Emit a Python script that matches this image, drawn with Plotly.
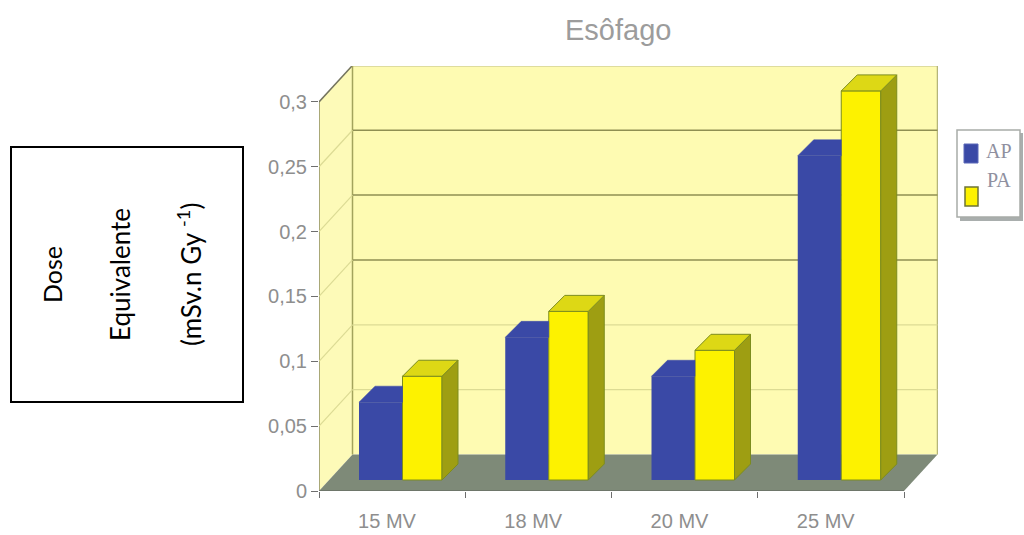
import plotly.graph_objects as go

# Dose values per beam energy
categories = ["15 MV", "18 MV", "20 MV", "25 MV"]
ap_values = [0.06, 0.11, 0.08, 0.25]
pa_values = [0.08, 0.13, 0.10, 0.30]
y_ticks = [0, 0.05, 0.1, 0.15, 0.2, 0.25, 0.3]
y_tick_labels = ["0", "0,05", "0,1", "0,15", "0,2", "0,25", "0,3"]

W, H = 1024, 535
LEFT, RIGHT, TOP, BOTTOM = 319, 938, 66, 491
PX_X = 146.25          # pixels per category
PX_Y = 1297.0          # pixels per unit of dose
WALL_DX = 33.5 / PX_X  # depth of the chart box
WALL_DY = 36.5 / PX_Y
BAR_DX = 16 / PX_X     # depth of each bar
BAR_DY = 16 / PX_Y
BAR_BASE = 11 / PX_Y   # bars stand a little behind the front edge of the floor
AP_START, AP_END, PA_END = 0.2735, 0.571, 0.841
X_MAX = (RIGHT - LEFT) / PX_X
Y_MAX = (BOTTOM - TOP) / PX_Y
N = len(categories)

WALL = "#FEFBB2"
SIDE_WALL = "#FDFAB8"
FLOOR = "#7E8A78"
BLUE = "#3A49A6"
YELLOW = "#FDF200"
OLIVE = "#9E9E12"
TOP_FACE = "#DDD815"
EDGE = "#7C8C1E"
GRID = "#8F8F52"
FAINT = "#DCDB94"
TEXT = "#8E8E8E"
AXIS_FONT = "Liberation Sans, sans-serif"


def path(points):
    return "M" + " L".join(f"{x},{y}" for x, y in points) + " Z"


def polygon(points, color, edge=None):
    xs = [p[0] for p in points] + [points[0][0]]
    ys = [p[1] for p in points] + [points[0][1]]
    return go.Scatter(x=xs, y=ys, mode="lines", fill="toself", fillcolor=color,
                      line=dict(color=edge or color, width=1 if edge else 0.5), hoverinfo="skip",
                      showlegend=False, cliponaxis=False)


def box(x0, y0, x1, y1, **kw):
    """Rectangle given in page pixels."""
    return dict(type="rect", xref="paper", yref="paper",
                x0=(x0 - LEFT) / (RIGHT - LEFT), x1=(x1 - LEFT) / (RIGHT - LEFT),
                y0=(BOTTOM - y0) / (BOTTOM - TOP), y1=(BOTTOM - y1) / (BOTTOM - TOP), **kw)


def note(x, y, text, size, color, font, angle=0):
    """Text centred on a page pixel position."""
    return dict(xref="paper", yref="paper", showarrow=False, text=text, textangle=angle,
                x=(x - LEFT) / (RIGHT - LEFT), y=(BOTTOM - y) / (BOTTOM - TOP),
                xanchor="center", yanchor="middle",
                font=dict(size=size, color=color, family=font))


top = y_ticks[-1]
back_x0, back_x1 = WALL_DX, N + WALL_DX
shapes = [
    # back wall, side wall, floor
    dict(type="path", layer="below", line=dict(width=0), fillcolor=WALL,
         path=path([(back_x0, WALL_DY), (back_x1, WALL_DY), (back_x1, top + WALL_DY), (back_x0, top + WALL_DY)])),
    dict(type="path", layer="below", line=dict(width=0), fillcolor=SIDE_WALL,
         path=path([(0, 0), (back_x0, WALL_DY), (back_x0, top + WALL_DY), (0, top)])),
    dict(type="path", layer="below", line=dict(width=0), fillcolor=FLOOR,
         path=path([(0, 0), (N, 0), (back_x1, WALL_DY), (back_x0, WALL_DY)])),
    # box edges
    dict(type="line", layer="below", x0=back_x0, x1=back_x1, y0=top + WALL_DY, y1=top + WALL_DY,
         line=dict(color="#7F7F62", width=1.5)),
    dict(type="line", layer="below", x0=0, x1=back_x0, y0=top, y1=top + WALL_DY,
         line=dict(color="#74745E", width=1.5)),
    dict(type="line", layer="below", x0=back_x0, x1=back_x0, y0=WALL_DY, y1=top + WALL_DY,
         line=dict(color="#A3A35C", width=1.5)),
    dict(type="line", layer="below", x0=back_x1, x1=back_x1, y0=WALL_DY, y1=top + WALL_DY,
         line=dict(color="#B5B57A", width=1.5)),
    dict(type="line", layer="below", x0=0, x1=0, y0=0, y1=top,
         line=dict(color="#8C8C62", width=1.5)),
    dict(type="line", layer="below", x0=0, x1=N, y0=0, y1=0,
         line=dict(color="#6A6F66", width=1.5)),
]
for tick in y_ticks[1:-1]:
    strong = tick > 0.12
    shapes.append(dict(type="line", layer="below", x0=back_x0, x1=back_x1,
                       y0=tick + WALL_DY, y1=tick + WALL_DY,
                       line=dict(color=GRID if strong else FAINT, width=1.5 if strong else 1.2)))
    shapes.append(dict(type="line", layer="below", x0=0, x1=back_x0,
                       y0=tick, y1=tick + WALL_DY, line=dict(color=FAINT, width=1.2)))

# text box on the left and the legend panel
shapes += [
    box(11, 147, 243, 402, line=dict(color="#000000", width=2), fillcolor="#FFFFFF"),
    box(960, 133, 1023, 221, line=dict(width=0), fillcolor="#A9AEAD"),
    box(957, 130, 1020, 217, line=dict(color="#A8ACA8", width=1.5), fillcolor="#FFFFFF"),
    box(964, 144, 978, 163, line=dict(color="#5A68B8", width=1), fillcolor=BLUE),
    box(965, 187, 978, 206, line=dict(color="#6E7436", width=1.5), fillcolor=YELLOW),
]

annotations = [
    note(618, 30, "Esôfago", 29, "#9C9C9C", "Liberation Sans, sans-serif"),
    note(52, 275, "Dose", 25, "#000000", "Lato, sans-serif", -90),
    note(120, 275, "Equivalente", 26, "#000000", "Lato, sans-serif", -90),
    note(189, 275, "(mSv.n Gy <sup>-1</sup>)", 26, "#000000", "Lato, sans-serif", -90),
    note(999, 151, "AP", 20, "#8F90A0", "Liberation Serif, serif"),
    note(999, 180, "PA", 20, "#8F90A0", "Liberation Serif, serif"),
]

fig = go.Figure()

# front faces of the bars
fig.add_trace(go.Bar(
    name="AP", x=[i + (AP_START + AP_END) / 2 for i in range(N)], y=ap_values,
    base=BAR_BASE, width=AP_END - AP_START, marker=dict(color=BLUE, line=dict(width=0)),
    showlegend=False))
fig.add_trace(go.Bar(
    name="PA", x=[i + (AP_END + PA_END) / 2 for i in range(N)], y=pa_values,
    base=BAR_BASE, width=PA_END - AP_END, marker=dict(color=YELLOW, line=dict(color=EDGE, width=1)),
    showlegend=False))

# visible part of the AP top, then the PA side and top faces
for i, value in enumerate(ap_values):
    x0, x1 = i + AP_START, i + AP_END
    y = value + BAR_BASE
    fig.add_trace(polygon([(x0, y), (x0 + BAR_DX, y + BAR_DY), (x1, y + BAR_DY), (x1, y)], BLUE))
for i, value in enumerate(pa_values):
    x0, x1 = i + AP_END, i + PA_END
    y = value + BAR_BASE
    fig.add_trace(polygon([(x1, BAR_BASE), (x1 + BAR_DX, BAR_BASE + BAR_DY),
                           (x1 + BAR_DX, y + BAR_DY), (x1, y)], OLIVE, EDGE))
    fig.add_trace(polygon([(x0, y), (x0 + BAR_DX, y + BAR_DY), (x1 + BAR_DX, y + BAR_DY), (x1, y)], TOP_FACE, EDGE))

fig.update_layout(
    width=W, height=H, autosize=False,
    margin=dict(l=LEFT, r=W - RIGHT, t=TOP, b=H - BOTTOM, pad=0),
    paper_bgcolor="#FFFFFF", plot_bgcolor="rgba(0,0,0,0)",
    barmode="overlay", showlegend=False, shapes=shapes, annotations=annotations,
    xaxis=dict(range=[0, X_MAX], showgrid=False, zeroline=False, showline=False, automargin=False,
               tickmode="array", tickvals=[i + 0.465 for i in range(N)], ticktext=categories,
               ticks="outside", ticklen=12, tickcolor="rgba(0,0,0,0)",
               tickfont=dict(size=20, color=TEXT, family=AXIS_FONT),
               minor=dict(tickmode="array", tickvals=list(range(N + 1)), ticks="outside",
                          ticklen=6, tickcolor="#6E6E6E", tickwidth=1.2, showgrid=False)),
    yaxis=dict(range=[0, Y_MAX], showgrid=False, zeroline=False, showline=False, automargin=False,
               tickmode="array", tickvals=y_ticks, ticktext=y_tick_labels,
               ticks="outside", ticklen=7, tickcolor="#6E6E6E", tickwidth=1.2,
               tickfont=dict(size=20, color=TEXT, family=AXIS_FONT)),
)

fig.write_html("out.html", config=dict(displayModeBar=False))
